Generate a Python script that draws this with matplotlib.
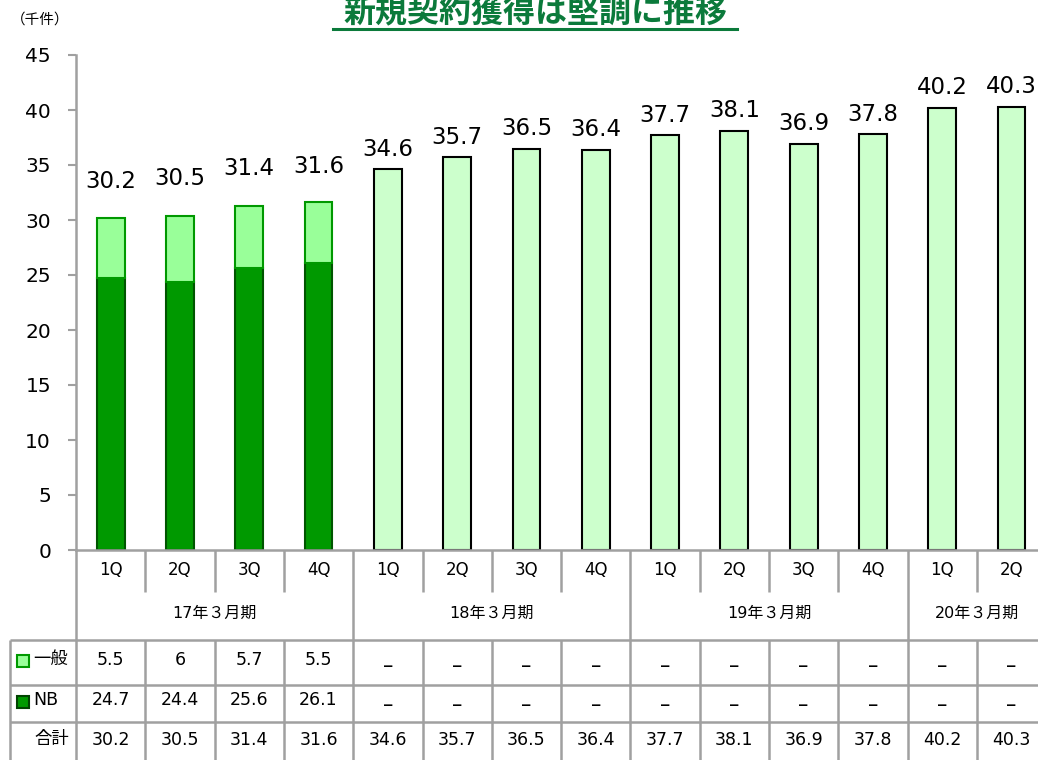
import numpy as np
import matplotlib
matplotlib.use('Agg')
import matplotlib.pyplot as plt
from matplotlib.transforms import blended_transform_factory
from matplotlib.patches import Rectangle

plt.rcParams['font.family'] = ['DejaVu Sans', 'Noto Sans CJK JP']

# data
quarters = ['1Q', '2Q', '3Q', '4Q', '1Q', '2Q', '3Q', '4Q',
            '1Q', '2Q', '3Q', '4Q', '1Q', '2Q']
periods = ['17年３月期', '18年３月期', '19年３月期', '20年３月期']
period_len = [4, 4, 4, 2]
general = [5.5, 6, 5.7, 5.5]
nb = [24.7, 24.4, 25.6, 26.1]
totals = [30.2, 30.5, 31.4, 31.6, 34.6, 35.7, 36.5, 36.4,
          37.7, 38.1, 36.9, 37.8, 40.2, 40.3]

W, H = 1038, 760
fig = plt.figure(figsize=(W / 100, H / 100), dpi=100)

def fy(py):
    return 1 - py / H

ax = fig.add_axes([76 / W, fy(550), (W - 76) / W, fy(55) - fy(550)])
grey = '#a0a0a0'

n = len(totals)
x = np.arange(n)
ns = len(nb)
ax.bar(x[:ns], nb, width=0.4, color='#009900', edgecolor='#005500', lw=1.5)
ax.bar(x[:ns], general, width=0.4, bottom=nb, color='#99ff99',
       edgecolor='#009900', lw=1.5)
ax.bar(x[ns:], totals[ns:], width=0.4, color='#ccffcc', edgecolor='black', lw=1.5)

for i, t in enumerate(totals):
    off = 26 if i < ns else 14.5
    ax.annotate('%.1f' % t, (i, t), xytext=(0, off), textcoords='offset points',
                ha='center', va='center', fontsize=16.5)

ax.set_ylim(0, 45)
ax.set_xlim(-0.5, -0.5 + (W - 76) / 69.3)
ax.set_yticks(range(0, 46, 5))
ax.set_xticks([])
ax.tick_params(axis='y', length=6, width=1.5, color=grey, labelsize=14.5, pad=12)
for s in ['top', 'right']:
    ax.spines[s].set_visible(False)
for s in ['left', 'bottom']:
    ax.spines[s].set_color(grey)
    ax.spines[s].set_linewidth(1.8)

# table under the chart
tr = blended_transform_factory(ax.transData, fig.transFigure)
xl = -0.5 - 66 / 69.3
xr = ax.get_xlim()[1]

def line(x0, x1, y0, y1, lw=1.8, c=grey):
    ax.plot([x0, x1], [fy(y0), fy(y1)], transform=tr, color=c, lw=lw,
            clip_on=False, solid_capstyle='butt')

ax.plot([-0.5, -0.5], [fy(550), fy(760)], transform=tr, color=grey, lw=1.8,
        clip_on=False)
ends = np.cumsum(period_len)
for i in range(n):
    b = i + 0.5
    if i + 1 in ends:
        line(b, b, 550, 760)
    else:
        line(b, b, 550, 592)
        line(b, b, 640, 760)
line(xl, xl, 640, 760)
for yy in [640, 685, 722]:
    line(xl, xr, yy, yy)

for i, q in enumerate(quarters):
    ax.text(i, fy(570), q, transform=tr, ha='center', va='center', fontsize=12)
start = 0
for p, l in zip(periods, period_len):
    ax.text(start + (l - 1) / 2, fy(613), p, transform=tr, ha='center',
            va='center', fontsize=11.5)
    start += l

for i in range(n):
    if i < ns:
        ax.text(i, fy(660), '%g' % general[i], transform=tr, ha='center',
                va='center', fontsize=12.5)
        ax.text(i, fy(700), '%.1f' % nb[i], transform=tr, ha='center',
                va='center', fontsize=12.5)
    else:
        ax.text(i, fy(666), '–', transform=tr, ha='center', va='center',
                fontsize=15)
        ax.text(i, fy(705), '–', transform=tr, ha='center', va='center',
                fontsize=15)
    ax.text(i, fy(740), '%.1f' % totals[i], transform=tr, ha='center',
            va='center', fontsize=12.5)

# row headers
fig.patches.append(Rectangle((17 / W, fy(667)), 12 / W, 12 / H,
                             transform=fig.transFigure, facecolor='#99ff99',
                             edgecolor='#009900', lw=1.5))
fig.patches.append(Rectangle((17 / W, fy(708)), 12 / W, 12 / H,
                             transform=fig.transFigure, facecolor='#009900',
                             edgecolor='#004400', lw=1.5))
fig.text(33 / W, fy(659), '一般', ha='left', va='center', fontsize=12.5)
fig.text(33 / W, fy(700), 'NB', ha='left', va='center', fontsize=12.5)
fig.text(69 / W, fy(739), '合計', ha='right', va='center', fontsize=12.5)

fig.text(40 / W, fy(19), '（千件）', ha='center', va='center', fontsize=10.5)

# title
tcol = '#0b7a3b'
fig.text(535 / W, fy(13), '新規契約獲得は堅調に推移', ha='center', va='center',
         fontsize=23, fontweight='bold', color=tcol)
fig.add_artist(plt.Line2D([333 / W, 737 / W], [fy(28.5), fy(28.5)],
                          transform=fig.transFigure, color=tcol, lw=2.2))

fig.savefig('out.png', dpi=100)
